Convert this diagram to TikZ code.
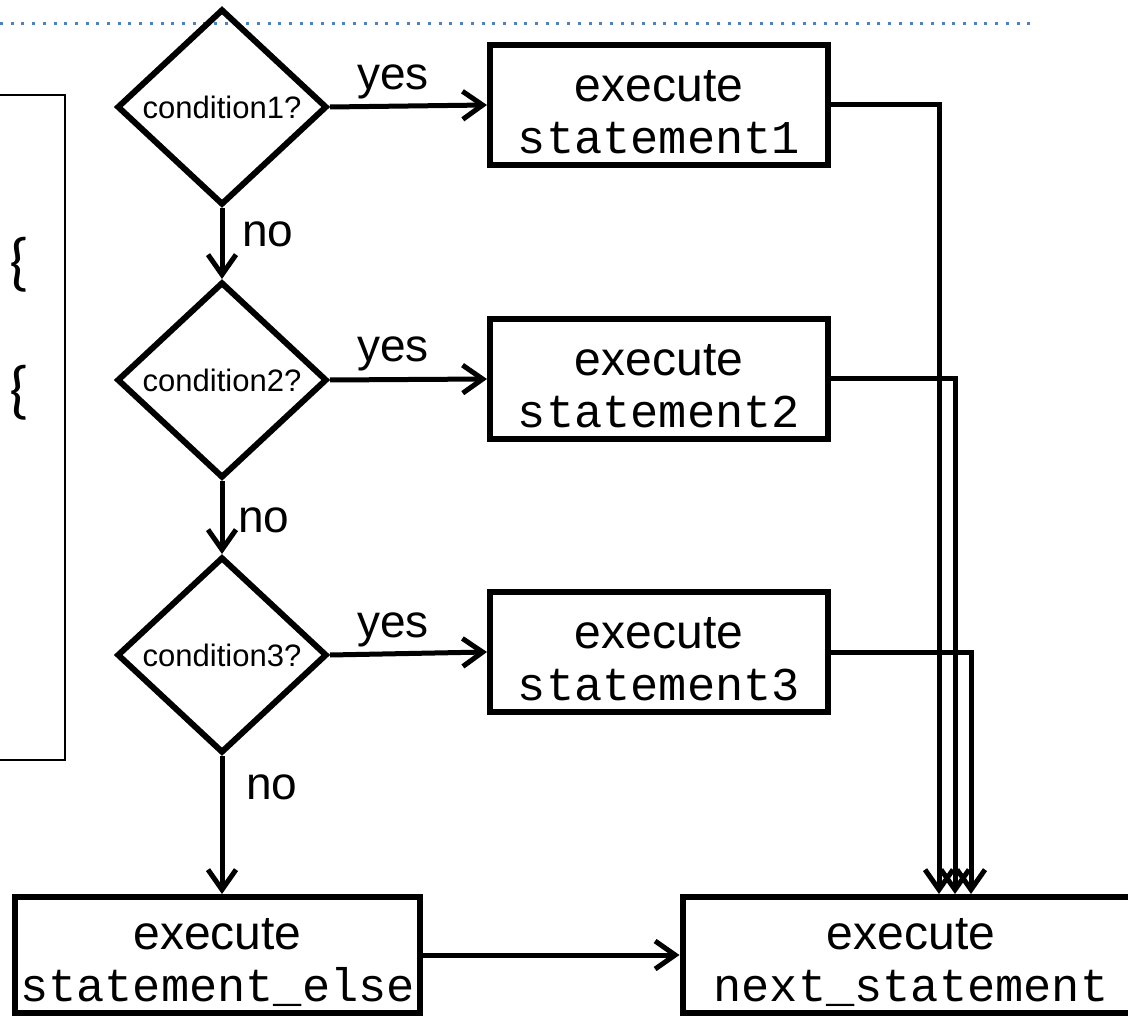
\documentclass[tikz,border=0pt]{standalone}
\usepackage{fontspec}
\setmainfont{Liberation Sans}
\setmonofont{Liberation Mono}
\newfontfamily\bracefont{Carlito}
\usetikzlibrary{shapes.geometric,arrows.meta}
\definecolor{dotblue}{RGB}{79,129,189}
\newcommand\codeword[1]{{\fontsize{47}{52}\selectfont\ttfamily #1}}
\newcommand\topstrut{\rule{0pt}{46pt}}
\begin{document}
\begin{tikzpicture}[x=1pt,y=-1pt,
  box/.style={draw,line width=6pt,rectangle,minimum width=338pt,minimum height=120pt,inner sep=0pt,align=center,font=\fontsize{48}{52}\selectfont},
  cond/.style={draw,line width=6pt,diamond,minimum width=210pt,minimum height=196pt,inner sep=0pt,font=\fontsize{31}{36}\selectfont},
  arr/.style={line width=5pt,-{Straight Barb[length=20pt,width=28pt,line width=5pt]}},
  lbl/.style={anchor=base,font=\fontsize{46}{50}\selectfont,inner sep=0pt},
  brace/.style={font=\bracefont\fontsize{64}{70}\selectfont,inner sep=0pt}
]
\useasboundingbox (0,0) rectangle (1128,1016);
% dotted header line
\draw[dotblue,line width=3pt,dash pattern=on 3pt off 7.7pt] (0,24) -- (1033,24);
% left code box (partly cut off)
\draw[line width=2.7pt] (-10,95) -- (65,95) -- (65,760) -- (-10,760);
\node[brace] (br1) at (20,265) {\{};
\node[brace] (br2) at (20,393) {\{};
% decisions
\node[cond] (d1) at (222,107) {condition1?};
\node[cond] (d2) at (222,380) {condition2?};
\node[cond] (d3) at (222,655) {condition3?};
% statement boxes
\node[box] (b1) at (659,105) {\topstrut execute\\\codeword{statement1}};
\node[box] (b2) at (659,379) {\topstrut execute\\\codeword{statement2}};
\node[box] (b3) at (659,652) {\topstrut execute\\\codeword{statement3}};
\node[box,minimum width=405pt,minimum height=116pt] (be) at (217.5,955) {\topstrut execute\\\codeword{statement\_else}};
\node[box,minimum width=457pt,minimum height=116pt] (bn) at (911,955) {\topstrut execute\\\codeword{next\_statement}};
% yes arrows
\draw[arr] (d1.east) -- (b1.west);
\draw[arr] (d2.east) -- (b2.west);
\draw[arr] (d3.east) -- (b3.west);
\node[lbl] (y1) at (393,90) {yes};
\node[lbl] (y2) at (393,362) {yes};
\node[lbl] (y3) at (393,637) {yes};
% no arrows
\draw[arr] (d1.south) -- (d2.north);
\draw[arr] (d2.south) -- (d3.north);
\draw[arr] (d3.south) -- (d3.south |- be.north);
\node[lbl] (n1) at (268,247) {no};
\node[lbl] (n2) at (264,532) {no};
\node[lbl] (n3) at (272,799) {no};
% merge connectors
\coordinate (c1) at (939,0);
\coordinate (c2) at (955,0);
\coordinate (c3) at (971,0);
\draw[arr] (b1.east) -| (c1 |- bn.north);
\draw[arr] (b2.east) -| (c2 |- bn.north);
\draw[arr] (b3.east) -| (c3 |- bn.north);
\draw[arr] (be.east) -- (bn.west);
\end{tikzpicture}
\end{document}
